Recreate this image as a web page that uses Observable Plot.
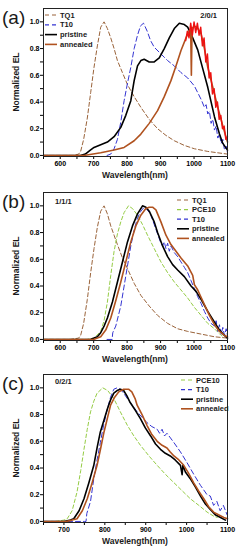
<!DOCTYPE html>
<html><head><meta charset="utf-8">
<script src="https://cdn.jsdelivr.net/npm/d3@7"></script>
<script src="https://cdn.jsdelivr.net/npm/@observablehq/plot@0.6"></script>
<style>
body{margin:0;background:#fff;width:240px;overflow:hidden}
.panel{position:relative;width:240px}
svg{display:block}
</style></head><body>
<div id="pa" class="panel"></div>
<div id="pb" class="panel"></div>
<div id="pc" class="panel"></div>
<script>
// ---------- DATA: [wavelength nm, normalized EL] ----------
const aTQ1 = [[550,0],[640,0],[655,0.01],[661,0.03],[670,0.12],[681,0.28],[691,0.47],[701,0.66],[711,0.82],[721,0.96],[731,1.0],[741,0.95],[751,0.88],[761,0.8],[771,0.71],[786,0.62],[801,0.53],[821,0.44],[841,0.36],[866,0.27],[891,0.2],[916,0.15],[941,0.11],[971,0.075],[1001,0.05],[1041,0.03],[1070,0.02],[1100,0.01]];
const aT10 = [[740,0],[751,0.01],[761,0.05],[771,0.12],[781,0.25],[791,0.41],[801,0.54],[811,0.66],[821,0.8],[831,0.9],[840,0.97],[849,0.99],[860,0.93],[870,0.86],[881,0.81],[901,0.76],[921,0.71],[941,0.67],[961,0.62],[981,0.58],[1001,0.52],[1011,0.47],[1021,0.42],[1031,0.36],[1036,0.38],[1041,0.31],[1046,0.33],[1051,0.24],[1056,0.27],[1061,0.19],[1066,0.22],[1071,0.13],[1076,0.16],[1081,0.09],[1086,0.12],[1091,0.04],[1096,0.07],[1100,0.02]];
const aPristine = [[550,0],[660,0],[675,0.01],[690,0.04],[701,0.06],[721,0.08],[741,0.1],[761,0.14],[781,0.21],[796,0.3],[811,0.41],[821,0.56],[831,0.67],[841,0.71],[851,0.72],[866,0.7],[881,0.7],[896,0.73],[911,0.8],[926,0.88],[941,0.95],[956,0.99],[971,0.98],[981,0.96],[996,0.88],[1011,0.79],[1026,0.65],[1041,0.51],[1061,0.29],[1076,0.16],[1086,0.09],[1100,0.04]];
const aAnnealed = [[550,0],[671,0],[721,0.02],[761,0.04],[791,0.06],[821,0.11],[841,0.16],[866,0.24],[891,0.335],[911,0.44],[931,0.56],[946,0.67],[961,0.785],[976,0.88],[986,0.935],[990,0.94],[992,0.6],[994,0.95],[1001,0.97],[1011,0.95],[1021,0.91],[1031,0.8],[1041,0.66],[1056,0.51],[1071,0.36],[1086,0.22],[1096,0.135],[1100,0.1]];
const aAnnealedNoise = [[975,0.86],[980,0.93],[985,0.88],[990,0.99],[995,0.9],[1000,1.0],[1005,0.92],[1010,0.99],[1015,0.9],[1020,0.96],[1025,0.82],[1030,0.88],[1035,0.7],[1040,0.76],[1045,0.58],[1050,0.62],[1055,0.46],[1060,0.5],[1065,0.36],[1070,0.4],[1075,0.27],[1080,0.3],[1085,0.2],[1090,0.22],[1095,0.12],[1100,0.14]];

const bTQ1 = [[550,0],[630,0],[655,0.01],[661,0.03],[670,0.12],[681,0.3],[691,0.5],[701,0.68],[711,0.84],[721,0.96],[731,1.0],[741,0.94],[751,0.85],[761,0.78],[771,0.71],[786,0.61],[801,0.53],[821,0.42],[841,0.33],[866,0.25],[891,0.18],[921,0.12],[951,0.08],[981,0.06],[1021,0.04],[1061,0.02],[1100,0.01]];
const bPCE10 = [[550,0],[680,0],[701,0.01],[721,0.06],[731,0.14],[741,0.28],[751,0.48],[761,0.66],[771,0.79],[781,0.88],[791,0.95],[804,1.0],[816,0.98],[831,0.93],[846,0.86],[861,0.78],[881,0.68],[901,0.58],[921,0.5],[941,0.43],[961,0.37],[981,0.31],[1001,0.24],[1021,0.18],[1041,0.12],[1061,0.08],[1081,0.03],[1090,0.02]];
const bT10 = [[740,0],[755,0],[757,0.05],[766,0.1],[781,0.25],[791,0.4],[801,0.55],[811,0.7],[821,0.82],[831,0.91],[841,0.96],[851,0.99],[861,0.97],[871,0.93],[881,0.86],[891,0.79],[901,0.72],[906,0.7],[911,0.73],[916,0.68],[921,0.72],[926,0.66],[931,0.7],[941,0.65],[951,0.62],[961,0.58],[971,0.54],[981,0.5],[991,0.44],[1001,0.38],[1011,0.32],[1021,0.27],[1031,0.21],[1041,0.16],[1051,0.12],[1061,0.1],[1066,0.14],[1071,0.06],[1076,0.11],[1081,0.04],[1086,0.09],[1091,0.03],[1096,0.08],[1100,0.03]];
const bPristine = [[550,0],[690,0],[701,0.01],[711,0.02],[721,0.05],[731,0.1],[741,0.16],[756,0.28],[771,0.43],[786,0.58],[801,0.73],[816,0.85],[831,0.94],[846,1.0],[856,0.99],[866,0.96],[881,0.88],[891,0.8],[906,0.7],[921,0.62],[936,0.56],[951,0.52],[971,0.47],[991,0.4],[1006,0.36],[1021,0.3],[1041,0.21],[1061,0.13],[1076,0.07],[1091,0.03],[1100,0.01]];
const bAnnealed = [[550,0],[700,0],[711,0.01],[721,0.02],[736,0.07],[751,0.16],[766,0.29],[781,0.43],[796,0.58],[811,0.73],[826,0.85],[841,0.93],[856,0.98],[866,0.99],[876,0.99],[886,0.97],[901,0.88],[916,0.78],[931,0.71],[946,0.66],[961,0.61],[981,0.55],[996,0.48],[1001,0.41],[1011,0.37],[1031,0.26],[1046,0.18],[1061,0.11],[1076,0.06],[1091,0.03],[1100,0.02]];

const cPCE10 = [[650,0],[680,0],[700,0.01],[708,0.02],[720,0.08],[732,0.22],[741,0.38],[749,0.54],[757,0.69],[765,0.82],[773,0.9],[781,0.96],[795,1.0],[807,0.98],[822,0.92],[838,0.82],[855,0.72],[871,0.64],[887,0.57],[908,0.49],[928,0.42],[949,0.35],[969,0.29],[989,0.23],[1009,0.17],[1030,0.12],[1050,0.07],[1066,0.04],[1075,0.03]];
const cT10 = [[650,0],[750,0],[754,0],[756,0.06],[765,0.15],[773,0.32],[781,0.46],[789,0.59],[797,0.72],[806,0.84],[814,0.93],[822,0.99],[830,1.0],[838,0.99],[846,0.96],[855,0.92],[867,0.87],[879,0.82],[891,0.78],[903,0.74],[915,0.71],[928,0.69],[934,0.66],[940,0.69],[946,0.64],[952,0.66],[969,0.59],[985,0.52],[1001,0.44],[1018,0.35],[1034,0.27],[1050,0.2],[1058,0.19],[1066,0.12],[1074,0.15],[1082,0.08],[1090,0.12],[1099,0.05]];
const cPristine = [[650,0],[700,0],[716,0.01],[724,0.02],[737,0.08],[749,0.17],[761,0.29],[773,0.42],[781,0.55],[789,0.67],[798,0.76],[806,0.84],[814,0.91],[822,0.96],[830,0.98],[838,0.99],[846,0.98],[854,0.94],[862,0.89],[875,0.83],[887,0.77],[899,0.7],[912,0.64],[924,0.58],[936,0.54],[948,0.51],[960,0.49],[972,0.46],[985,0.42],[989,0.35],[991,0.42],[997,0.37],[1009,0.32],[1021,0.26],[1034,0.19],[1046,0.13],[1058,0.09],[1070,0.05],[1083,0.03],[1095,0.01]];
const cAnnealed = [[650,0],[705,0],[720,0.01],[732,0.02],[745,0.08],[757,0.17],[769,0.29],[781,0.42],[790,0.55],[798,0.67],[806,0.77],[814,0.87],[824,0.93],[834,0.97],[846,0.99],[858,0.99],[866,0.97],[874,0.92],[879,0.87],[891,0.8],[903,0.72],[915,0.65],[928,0.6],[940,0.57],[952,0.55],[960,0.52],[969,0.49],[981,0.46],[993,0.42],[1005,0.36],[1017,0.29],[1029,0.23],[1042,0.17],[1054,0.11],[1066,0.07],[1078,0.05],[1091,0.03],[1100,0.02]];

const xTicksWide = [550,600,650,700,750,800,850,900,950,1000,1050,1100];
const xTicksNarrow = [650,700,750,800,850,900,950,1000,1050,1100];
const yTicks = [0,0.1,0.2,0.3,0.4,0.5,0.6,0.7,0.8,0.9,1.0];
const panelLabels = ["(a)","(b)","(c)"];
const ratioLabels = ["2/0/1","1/1/1","0/2/1"];
const xTitle = "Wavelength(nm)";
const yTitle = "Normalized EL";

// ---------- STYLES ----------
const ST = {
  TQ1: {stroke:"#9a633a", dash:"4,2.5", w:1},
  T10: {stroke:"#3434d2", dash:"5,3", w:1},
  PCE10: {stroke:"#95cc45", dash:"3.5,2.5", w:1},
  pristine: {stroke:"#000000", dash:null, w:1.6},
  annealed: {stroke:"#b0521f", dash:null, w:1.6}
};
const FONT = "'Liberation Sans', Arial, sans-serif";

function lineMark(data, s, extra={}) {
  return Plot.line(data, {x: d=>d[0], y: d=>d[1], stroke: s.stroke, strokeWidth: s.w,
    strokeDasharray: s.dash || undefined, ...extra});
}

function addText(sel, x, y, txt, size, weight, anchor) {
  return sel.append("text").attr("x", x).attr("y", y).attr("font-size", size)
    .attr("font-weight", weight).attr("font-family", FONT).attr("fill", "#1a1a1a")
    .attr("text-anchor", anchor).text(txt);
}

function makePanel(el, cfg) {
  const marks = cfg.series.map(([data, key]) => lineMark(data, ST[key]));
  if (cfg.extra) marks.push(...cfg.extra);
  marks.push(Plot.frame({stroke:"#222", strokeWidth:1}));
  const svg = Plot.plot({
    width: 240, height: cfg.height,
    marginLeft: 43, marginRight: 13, marginTop: 8, marginBottom: cfg.height - 156,
    style: {fontFamily: FONT, fontSize: "7px", fontWeight: "bold", background: "transparent", overflow: "visible"},
    x: {domain: cfg.xdomain, ticks: cfg.xticks, tickFormat: d => d % 100 === 0 ? String(d) : "", tickSize: 3, tickPadding: 2, label: null},
    y: {domain: [-0.008, 1.1], ticks: yTicks, tickFormat: d => (Math.round(d*10) % 2 === 0) ? d.toFixed(1) : "", tickSize: 3, tickPadding: 1, label: null},
    marks
  });
  el.style.height = cfg.height + "px";
  el.appendChild(svg);
  const s = d3.select(svg);
  addText(s, 2, 24, cfg.panel, 19, "normal", "start");
  addText(s, 135, 178, xTitle, 8.5, "bold", "middle");
  s.append("text").attr("transform", "translate(19,82) rotate(-90)").attr("text-anchor","middle")
    .attr("font-size", 8.5).attr("font-weight","bold").attr("font-family", FONT).attr("fill","#1a1a1a").text(yTitle);
  addText(s, cfg.ratioX, cfg.ratioY, cfg.ratio, 7.5, "bold", cfg.ratioAnchor);
  const lg = s.append("g");
  cfg.legend.forEach((key, i) => {
    const st = ST[key];
    const y = cfg.legY + i * cfg.legStep;
    lg.append("line").attr("x1", cfg.legX).attr("x2", cfg.legX + 12).attr("y1", y).attr("y2", y)
      .attr("stroke", st.stroke).attr("stroke-width", st.dash ? 1.2 : 1.6)
      .attr("stroke-dasharray", st.dash ? "4,3" : null);
    addText(lg, cfg.legX + 15, y + 2.6, key, 7.5, "bold", "start");
  });
}

makePanel(document.getElementById("pa"), {
  height: 184, xdomain: [550,1100], xticks: xTicksWide, panel: panelLabels[0], ratio: ratioLabels[0],
  ratioX: 217, ratioY: 18, ratioAnchor: "end",
  series: [[aTQ1,"TQ1"],[aT10,"T10"],[aPristine,"pristine"],[aAnnealed,"annealed"]],
  extra: [Plot.line(aAnnealedNoise, {x:d=>d[0], y:d=>d[1], stroke:"#ee1111", strokeWidth:1.4})],
  legend: ["TQ1","T10","pristine","annealed"], legX: 45, legY: 15, legStep: 9.8
});
makePanel(document.getElementById("pb"), {
  height: 182, xdomain: [550,1100], xticks: xTicksWide, panel: panelLabels[1], ratio: ratioLabels[1],
  ratioX: 55, ratioY: 20, ratioAnchor: "start",
  series: [[bTQ1,"TQ1"],[bPCE10,"PCE10"],[bT10,"T10"],[bPristine,"pristine"],[bAnnealed,"annealed"]],
  legend: ["TQ1","PCE10","T10","pristine","annealed"], legX: 177, legY: 16, legStep: 9.6
});
makePanel(document.getElementById("pc"), {
  height: 184, xdomain: [650,1100], xticks: xTicksNarrow, panel: panelLabels[2], ratio: ratioLabels[2],
  ratioX: 55, ratioY: 18, ratioAnchor: "start",
  series: [[cPCE10,"PCE10"],[cT10,"T10"],[cPristine,"pristine"],[cAnnealed,"annealed"]],
  legend: ["PCE10","T10","pristine","annealed"], legX: 181, legY: 14, legStep: 9.6
});
</script>
</body></html>
